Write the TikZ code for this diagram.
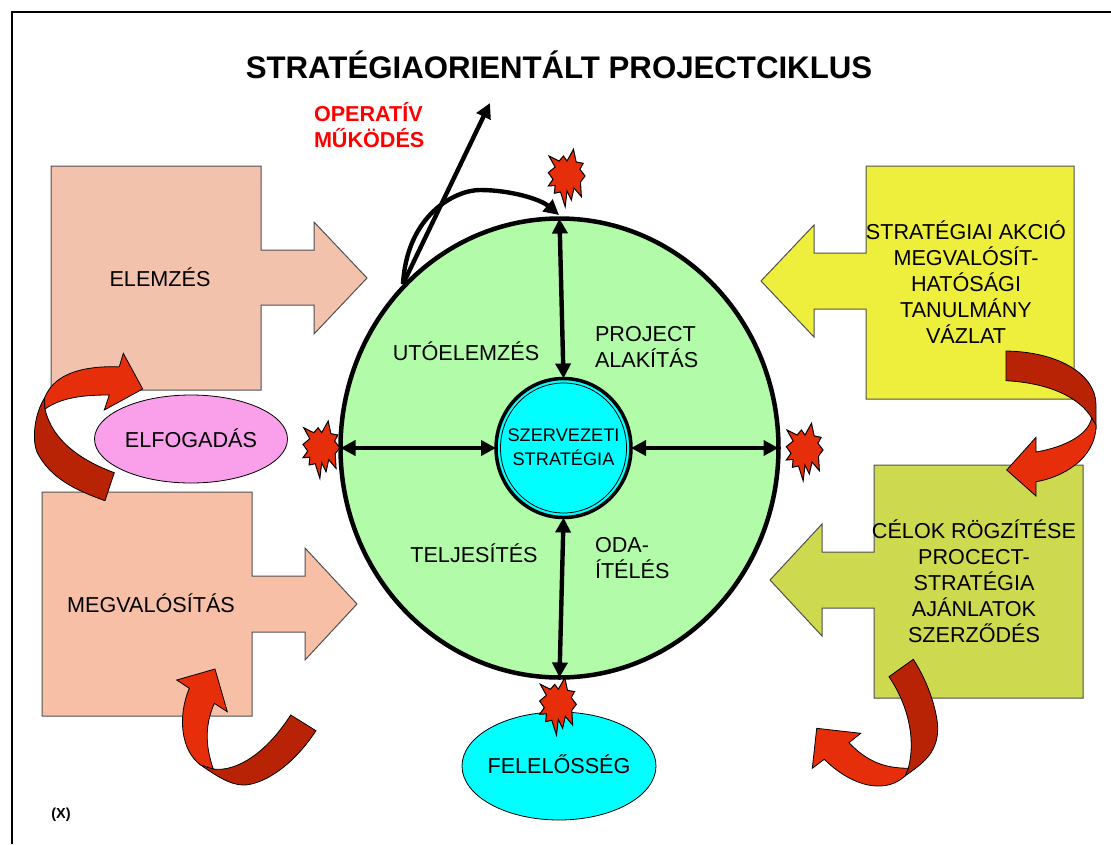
\documentclass[tikz,border=0pt]{standalone}
\usepackage{fontspec}
\setmainfont{Liberation Sans}
\usetikzlibrary{arrows.meta,shapes.geometric}
\definecolor{peachA}{HTML}{F2C2AC}
\definecolor{peachB}{HTML}{F7C0A6}
\definecolor{yellowbox}{HTML}{EEEE3D}
\definecolor{olivebox}{HTML}{CDD94F}
\definecolor{greenfill}{HTML}{B2FBA8}
\definecolor{pinkfill}{HTML}{FAA0EA}
\definecolor{aquafill}{HTML}{00FFFF}
\definecolor{redA}{HTML}{E62E0A}
\definecolor{redB}{HTML}{B82306}
\definecolor{edgegray}{HTML}{505050}
\tikzset{
  burst/.pic = {
    \draw[fill = redA, line width = 1pt, line join = miter, xscale = 1.08]
      (-16.7,-19)--(-7.3,-14)--(-3.3,-19)--(0,-14)--(6,-25.7)--(8.5,-13)--(15,-11.7)--(12,-5.7)
      --(16.7,1)--(12.5,7)--(13.3,21.7)--(6.5,13)--(4,25)--(0,16)--(-1.7,31.7)--(-6,17)
      --(-11.7,18.3)--(-11,10.5)--(-17.3,11)--(-13,4.3)--(-17.3,-2.3)--(-11,-8)--cycle;
  }
}
\begin{document}
\begin{tikzpicture}[
      x = 1pt, y = -1pt,
      every node/.style = {
        inner sep = 0pt, outer sep = 0pt, align = center,
        font = \fontsize{21.6}{26}\selectfont},
      panel/.style = {draw = edgegray, line width = 1pt},
      band/.style = {draw = black, line width = .8pt, fill = redA},
      bandback/.style = {band, fill = redB},
      oval/.style = {ellipse, draw = black, line width = .8pt},
      link/.style = {line width = 4.4pt, -{Triangle[length = 15pt, width = 15pt]}},
      biglink/.style = {line width = 4.4pt,
        {Triangle[length = 15pt, width = 15pt]}-{Triangle[length = 15pt, width = 15pt]}}
      ]
    \useasboundingbox (0,0) rectangle (1111,844);
    \draw[line width = 2pt] (12,844)--(12,12)--(1111,12);
    \node[font = \fontsize{31.2}{36}\bfseries] (title) at (559,65) {STRATÉGIAORIENTÁLT PROJECTCIKLUS};
    \node[font = \fontsize{21.6}{26}\bfseries, text = red, align = left, anchor = west] (operativ) at (314,125) {OPERATÍV\\MŰKÖDÉS};
    % block arrows
    \draw[panel, fill = peachA] (51,166)--(261,166)--(261,250)--(314,250)--(314,222)--(367,278)
      --(314,334)--(314,305)--(261,305)--(261,390)--(51,390)--cycle;
    \draw[panel, fill = peachB] (42,492)--(252,492)--(252,576)--(305,576)--(305,548)--(357,604)
      --(305,660)--(305,632)--(252,632)--(252,716)--(42,716)--cycle;
    \draw[panel, fill = yellowbox] (1074,166)--(866,166)--(866,253)--(814,253)--(814,225)--(761,281)
      --(814,337)--(814,309)--(866,309)--(866,399)--(1074,399)--cycle;
    \draw[panel, fill = olivebox] (1083,465)--(874,465)--(874,552)--(822,552)--(822,524)--(770,580)
      --(822,636)--(822,608)--(874,608)--(874,698)--(1083,698)--cycle;
    \node (elemzes) at (160,277.5) {ELEMZÉS};
    \node (megval) at (151,603.5) {MEGVALÓSÍTÁS};
    \node (akcio) at (966,282) {STRATÉGIAI AKCIÓ\\MEGVALÓSÍT-\\HATÓSÁGI\\TANULMÁNY\\VÁZLAT};
    \node (celok) at (974,581) {CÉLOK RÖGZÍTÉSE\\PROCECT-\\STRATÉGIA\\AJÁNLATOK\\SZERZŐDÉS};
    % circles
    \node[ellipse, draw, line width = 4.5pt, fill = greenfill, minimum width = 438pt, minimum height = 459pt] (main) at (559.5,448) {};
    \node[ellipse, draw, line width = 3.5pt, fill = aquafill, minimum width = 135pt, minimum height = 139pt] (core) at (563.5,448) {};
    \node[ellipse, draw, line width = .8pt, minimum width = 126pt, minimum height = 130pt] (coreIn) at (563.5,448) {};
    \node[font = \fontsize{18.2}{23.5}\selectfont] (coreText) at (563.5,447) {SZERVEZETI\\STRATÉGIA};
    \node (uto) at (466,351.5) {UTÓELEMZÉS};
    \node[align = left, anchor = west] (alakitas) at (595,347.5) {PROJECT\\ALAKÍTÁS};
    \node (teljes) at (474,553.5) {TELJESÍTÉS};
    \node[align = left, anchor = west] (oda) at (595,558.5) {ODA-\\ÍTÉLÉS};
    \node[oval, fill = pinkfill, minimum width = 193pt, minimum height = 88pt] (elfog) at (191,439) {};
    \node (elfogText) at (191,438.5) {ELFOGADÁS};
    \node[oval, fill = aquafill, minimum width = 194pt, minimum height = 108pt] (felelos) at (559,766) {};
    \node (felelosText) at (559,764.5) {FELELŐSSÉG};
    \node[font = \fontsize{14.5}{16}\bfseries] (xmark) at (61,815) {(X)};
    % arrows
    \draw[biglink] (main.90)--(core.90);
    \draw[biglink] (core.270)--(main.270);
    \draw[biglink] (main.180)--(core.180);
    \draw[biglink] (core.0)--(main.0);
    \coordinate (opStart) at (403,284);
    \coordinate (opTip) at (490,103);
    \coordinate (opEnd) at (559,215);
    \draw[link] (opStart)--(opTip);
    \draw[link] (opStart) .. controls (407,215) and (455,190) .. (480,190) .. controls (510,190) and (540,199) .. (opEnd);
    % bent arrows
    \draw[bandback] (44.5,398) .. controls (34,415) and (32,440) .. (37,452) .. controls (50,478) and (75,490) .. (105,500.7)
      --(114.3,472.7) .. controls (80,460) and (52,440) .. (45,409)--cycle;
    \draw[band] (142.7,389)--(123.3,353.3)--(119.3,366.7) .. controls (85,366) and (55,372) .. (44.5,398)
      --(45,409) .. controls (62,397) and (85,395) .. (109.3,395)--(104.3,410)--cycle;
    \draw[bandback] (1006,351) .. controls (1060,352) and (1096,375) .. (1096,405)--(1096,428)
      --(1091.7,418) .. controls (1080,398) and (1050,383) .. (1006,380.7)--cycle;
    \draw[band] (1006.7,470)--(1036,437.3)--(1036,452) .. controls (1065,447) and (1088,435) .. (1091.7,418)
      --(1096,425) .. controls (1096,460) and (1060,478) .. (1036,481.7)--(1036,496)--cycle;
    \draw[bandback] (290.7,715) .. controls (265,755) and (235,772) .. (213.3,769)--(200.7,765)
      .. controls (215,775) and (230,785) .. (243.3,785) .. controls (260,785) and (290,770) .. (316,730.7)--cycle;
    \draw[band] (176.7,680)--(215,669)--(227.3,711.7)--(214.3,703.3) .. controls (205,725) and (205,745) .. (213.3,769)
      --(200.7,765) .. controls (180,750) and (178,715) .. (189.3,688.3)--cycle;
    \draw[bandback] (913.3,659.3) .. controls (930,685) and (938,715) .. (937.7,730) .. controls (937,755) and (920,765) .. (905,776)
      --(908.3,768.3) .. controls (917,735) and (905,700) .. (889,676.7)--cycle;
    \draw[band] (816.7,728.3)--(860.7,733.3)--(849,742.7) .. controls (870,765) and (890,768) .. (908.3,768.3)
      --(905,776) .. controls (895,785) and (885,786) .. (878,786) .. controls (860,786) and (840,775) .. (824.3,759.3)
      --(812.3,768.3)--cycle;
    % bursts
    \pic (burstT) at (567,175) {burst};
    \pic (burstL) at (321.7,446.7) {burst};
    \pic (burstR) at (805,449) {burst};
    \pic (burstB) at (558.3,703.3) {burst};
  \end{tikzpicture}
\end{document}
